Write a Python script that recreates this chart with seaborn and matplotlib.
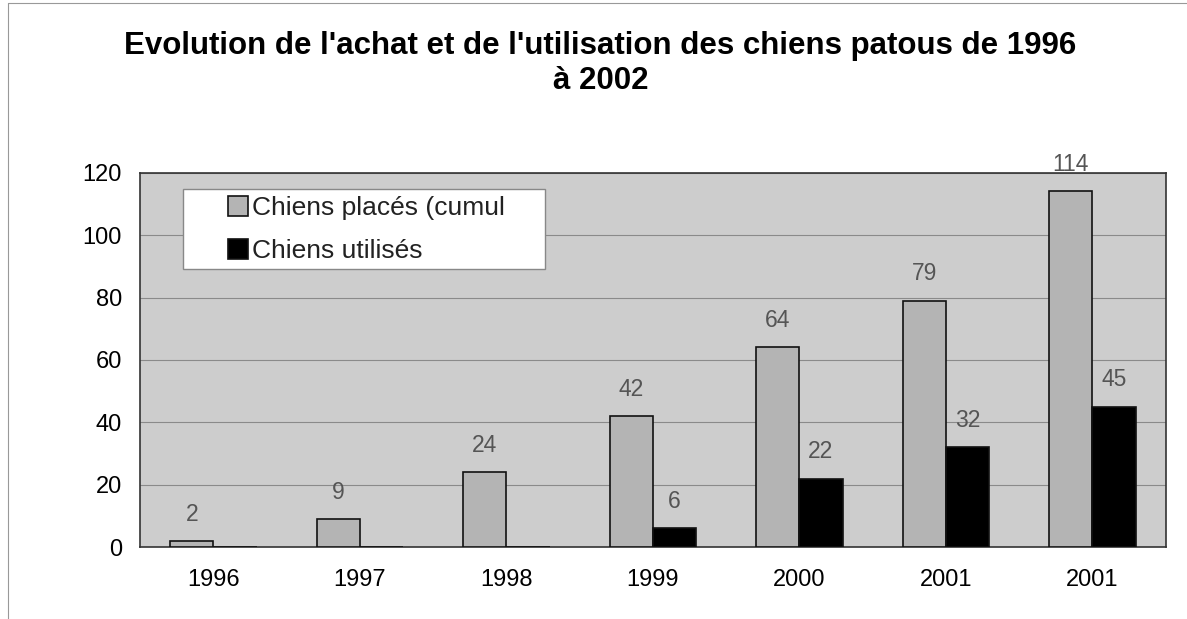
import pandas as pd
import seaborn as sns
import matplotlib.pyplot as plt
from matplotlib.lines import Line2D
from matplotlib.patches import Rectangle

# Valeurs
annees = ['1996', '1997', '1998', '1999', '2000', '2001', '2001']
chiens_places = [2, 9, 24, 42, 64, 79, 114]
chiens_utilises = [0, 0, 0, 6, 22, 32, 45]
series = ['Chiens placés (cumul', 'Chiens utilisés']

df = pd.DataFrame({
    'rang': list(range(len(annees))) * 2,
    'valeur': chiens_places + chiens_utilises,
    'serie': [series[0]] * len(annees) + [series[1]] * len(annees),
})

sns.set_style('white')
plt.rcParams['font.family'] = ['Liberation Sans', 'DejaVu Sans']
plt.rcParams['text.color'] = 'black'
plt.rcParams['xtick.color'] = 'black'
plt.rcParams['ytick.color'] = 'black'

fig = plt.figure(figsize=(11.87, 6.19), dpi=100)
ax = fig.add_axes([0.118, 0.116, 0.864, 0.605])
ax.set_facecolor('#cdcdcd')

sns.barplot(data=df, x='rang', y='valeur', hue='serie', hue_order=series,
            palette=['#b4b4b4', '#000000'], width=0.59, saturation=1,
            edgecolor='#111111', linewidth=1.2, ax=ax, zorder=3)

# étiquettes de valeurs (pas pour les zéros)
for cont in ax.containers:
    labels = [f'{int(b.get_height())}' if b.get_height() > 0 else '' for b in cont]
    ax.bar_label(cont, labels=labels, padding=11, fontsize=16.5, color='#555555')

ax.set_ylim(0, 120)
ax.set_yticks(range(0, 121, 20))
ax.set_xlim(-0.5, len(annees) - 0.5)
ax.set_xticks(range(len(annees)))
ax.set_xticklabels(annees)
ax.set_xticks([i + 0.5 for i in range(-1, len(annees))], minor=True)
ax.tick_params(axis='x', which='major', length=0, pad=16, labelsize=17)
ax.tick_params(axis='x', which='minor', length=4, color='#666666', direction='out')
ax.tick_params(axis='y', length=4, direction='out', color='#666666', labelsize=17, pad=9)
ax.yaxis.grid(True, color='#8a8a8a', linewidth=0.8, zorder=1)
ax.set_axisbelow(True)
ax.set_xlabel('')
ax.set_ylabel('')
for side in ['left', 'bottom', 'right', 'top']:
    ax.spines[side].set_visible(True)
    ax.spines[side].set_color('#333333')
    ax.spines[side].set_linewidth(1.2)

# cadre blanc de la légende (plus large que les entrées, comme dans Excel)
ax.add_patch(Rectangle((0.042, 0.744), 0.353, 0.213, transform=ax.transAxes,
                       facecolor='white', edgecolor='#888888', linewidth=1,
                       zorder=5))
leg = ax.legend(loc='upper left', bbox_to_anchor=(0.086, 0.937), frameon=False,
                fontsize=19, handlelength=0.75, handleheight=0.75,
                handletextpad=0.15, borderpad=0, labelspacing=0.72,
                borderaxespad=0)
leg.set_zorder(6)
for t in leg.get_texts():
    t.set_color('#222222')

fig.suptitle("Evolution de l'achat et de l'utilisation des chiens patous de 1996\nà 2002",
             x=0.506, y=0.95, fontsize=22.5, fontweight='bold', linespacing=1.2,
             color='black')

# cadre de la figure
fig.add_artist(Line2D([0.007, 1], [0.995, 0.995], color='#999999', linewidth=0.8))
fig.add_artist(Line2D([0.007, 0.007], [0, 0.995], color='#999999', linewidth=0.8))

plt.savefig('out.png', dpi=100)
